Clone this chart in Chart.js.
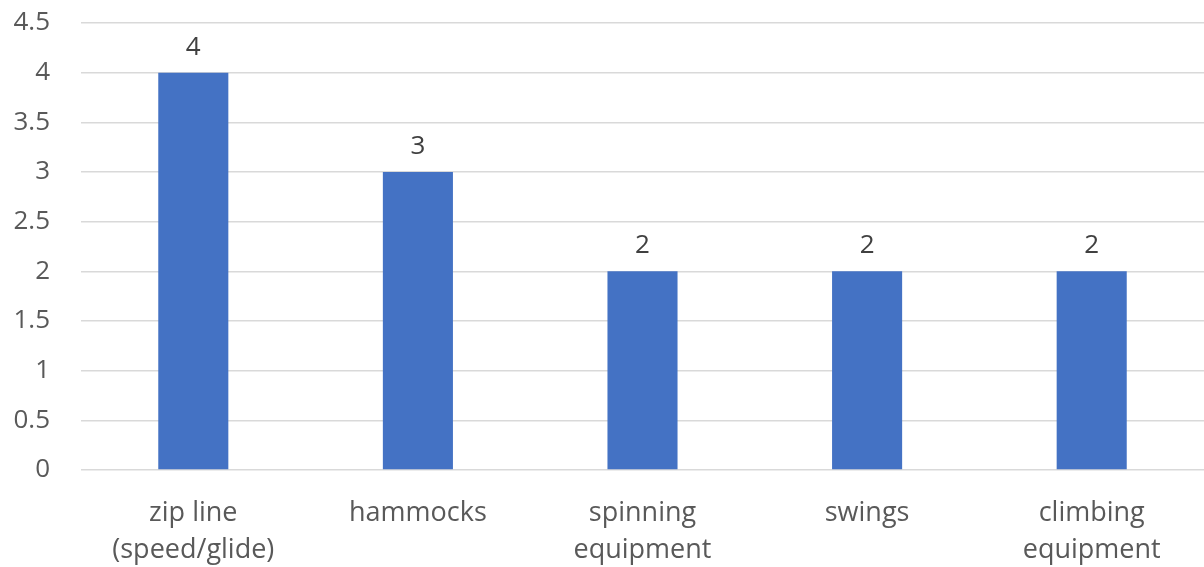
<!DOCTYPE html>
<html>
<head>
<meta charset="utf-8">
<script src="https://cdn.jsdelivr.net/npm/chart.js@4/dist/chart.umd.min.js"></script>
<style>
html,body{margin:0;padding:0;background:#fff;}
#wrap{width:1204px;height:567px;}
</style>
</head>
<body>
<div id="wrap"><canvas id="c" width="1204" height="567"></canvas></div>
<script>
const categories = [["zip line","(speed/glide)"], "hammocks", ["spinning","equipment"], "swings", ["climbing","equipment"]];
const values = [4, 3, 2, 2, 2];
const yTickMin = 0, yTickMax = 4.5, yTickStep = 0.5;

const FONT = "'Open Sans', Lato, sans-serif";
const TEXT = "#595959";

const dataLabels = {
  id: 'dataLabels',
  afterDatasetsDraw(chart) {
    const ctx = chart.ctx;
    const meta = chart.getDatasetMeta(0);
    ctx.save();
    ctx.font = "26px " + FONT;
    ctx.fillStyle = "#404040";
    ctx.textAlign = 'center';
    ctx.textBaseline = 'alphabetic';
    meta.data.forEach((el, i) => {
      ctx.fillText(String(values[i]), el.x, el.y - 18);
    });
    ctx.restore();
  }
};

new Chart(document.getElementById('c'), {
  type: 'bar',
  data: {
    labels: categories,
    datasets: [{
      data: values,
      backgroundColor: '#4472C4',
      borderWidth: 0,
      categoryPercentage: 1,
      barPercentage: 0.312
    }]
  },
  options: {
    responsive: false,
    animation: false,
    devicePixelRatio: 1,
    layout: { padding: { top: 23, right: 0, left: 0, bottom: 0 } },
    plugins: { legend: { display: false }, tooltip: { enabled: false } },
    scales: {
      x: {
        grid: { display: false },
        border: { display: false },
        ticks: {
          color: TEXT,
          font: { family: FONT, size: 27, lineHeight: 1.37 },
          padding: 17,
          maxRotation: 0,
          autoSkip: false
        },
        afterFit(s) { s.height = 97; s.paddingLeft = 0; s.paddingRight = 0; }
      },
      y: {
        min: yTickMin,
        max: yTickMax,
        grid: { color: '#d9d9d9', lineWidth: 1.5, drawTicks: false },
        border: { display: false },
        ticks: {
          stepSize: yTickStep,
          color: TEXT,
          font: { family: FONT, size: 26 },
          padding: 31,
          callback: (v) => String(v)
        },
        afterFit(s) { s.width = 81; s.paddingTop = 0; s.paddingBottom = 0; }
      }
    }
  },
  plugins: [dataLabels]
});
</script>
</body>
</html>
